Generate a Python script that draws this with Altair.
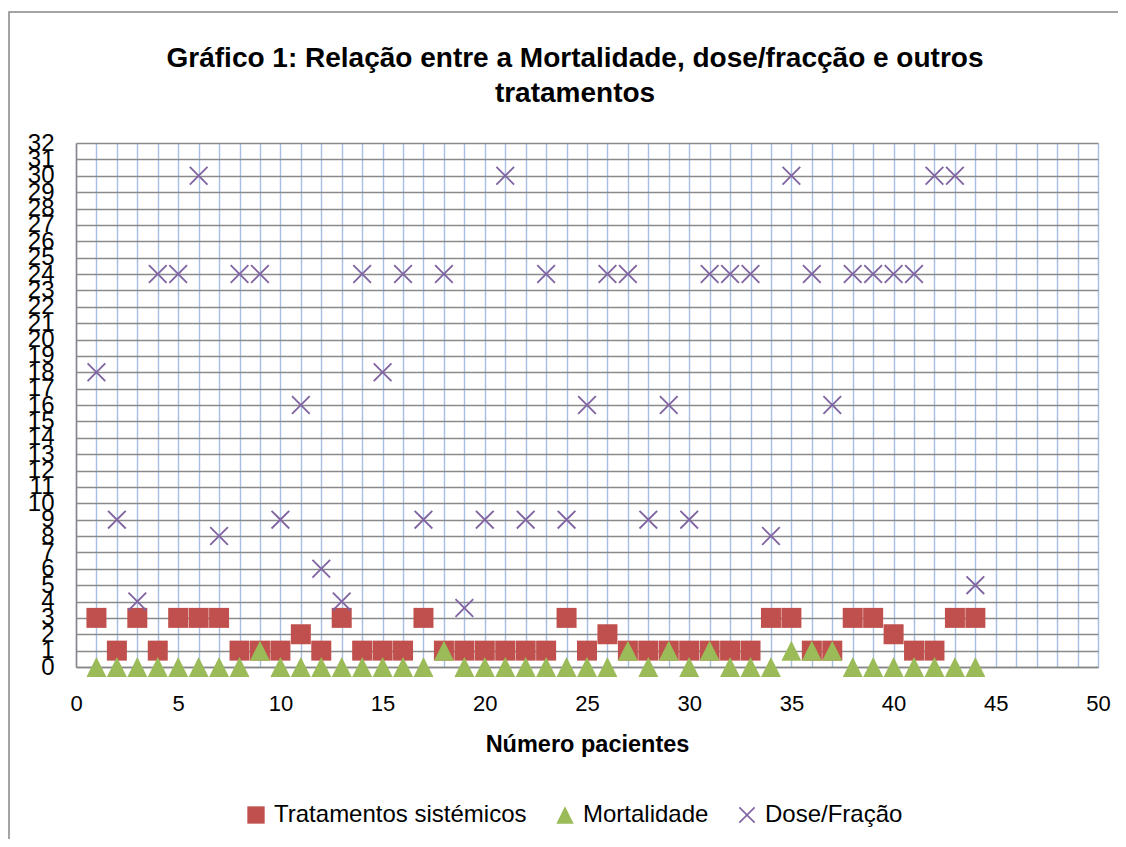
import altair as alt
import pandas as pd

patients = list(range(1, 45))
tratamentos = [3, 1, 3, 1, 3, 3, 3, 1, 1, 1, 2, 1, 3, 1, 1, 1, 3, 1, 1, 1, 1, 1,
               1, 3, 1, 2, 1, 1, 1, 1, 1, 1, 1, 3, 3, 1, 1, 3, 3, 2, 1, 1, 3, 3]
mortalidade = [0, 0, 0, 0, 0, 0, 0, 0, 1, 0, 0, 0, 0, 0, 0, 0, 0, 1, 0, 0, 0, 0,
               0, 0, 0, 0, 1, 0, 1, 0, 1, 0, 0, 0, 1, 1, 1, 0, 0, 0, 0, 0, 0, 0]
dose = [18, 9, 4, 24, 24, 30, 8, 24, 24, 9, 16, 6, 4, 24, 18, 24, 9, 24, 3.6, 9,
        30, 9, 24, 9, 16, 24, 24, 9, 16, 9, 24, 24, 24, 8, 30, 24, 16, 24, 24, 24,
        24, 30, 30, 5]

series_names = ["Tratamentos sistémicos", "Mortalidade", "Dose/Fração"]
series_colors = ["#C0504D", "#9BBB59", "#8064A2"]

a = 0.13
m = 0.95
X_PATH = (f"M{-m+a},{-m}L0,{-a}L{m-a},{-m}L{m},{-m+a}L{a},0L{m},{m-a}"
          f"L{m-a},{m}L0,{a}L{-m+a},{m}L{-m},{m-a}L{-a},0L{-m},{-m+a}Z")
TRI_PATH = "M0,-1L1,1L-1,1Z"

rows = []
for name, vals in zip(series_names, [tratamentos, mortalidade, dose]):
    for p, v in zip(patients, vals):
        rows.append({"paciente": p, "valor": v, "serie": name})
df = pd.DataFrame(rows)
df["ordem"] = df["serie"].map({n: i for i, n in enumerate(series_names)})

FONT = "Liberation Sans"

legend_cfg = dict(title=None, orient="none", direction="horizontal",
                  legendX=168, legendY=660,
                  labelFont=FONT, labelFontSize=24, labelColor="#000000",
                  labelLimit=500,
                  symbolSize=300, symbolStrokeWidth=0,
                  labelOffset=6, columnPadding=26)

points = alt.Chart(df).mark_point(filled=True, opacity=1, size=400, strokeWidth=0).encode(
    x=alt.X("paciente:Q",
            scale=alt.Scale(domain=[0, 50], nice=False, zero=False),
            axis=alt.Axis(values=list(range(0, 51)),
                          labelExpr="datum.value % 5 == 0 ? datum.label : ''",
                          title="Número pacientes",
                          grid=True, gridColor="#A7BFE4", gridWidth=1.4,
                          ticks=False, domainColor="#868686", domainWidth=1.5,
                          labelFont=FONT, labelFontSize=22, labelColor="#000000",
                          labelPadding=26, labelFlush=False,
                          titleFont=FONT, titleFontSize=23.5, titleFontWeight="bold",
                          titleColor="#000000", titlePadding=18)),
    y=alt.Y("valor:Q",
            scale=alt.Scale(domain=[0, 32], nice=False),
            axis=alt.Axis(values=list(range(0, 33)), title=None,
                          grid=True, gridColor="#8A8A8A", gridWidth=1.6,
                          ticks=False, domainColor="#868686", domainWidth=1.5,
                          labelFont=FONT, labelFontSize=24, labelColor="#000000",
                          labelPadding=22, labelFlush=False, labelOverlap=False)),
    color=alt.Color("serie:N",
                    scale=alt.Scale(domain=series_names, range=series_colors),
                    legend=alt.Legend(**legend_cfg)),
    shape=alt.Shape("serie:N",
                    scale=alt.Scale(domain=series_names,
                                    range=["square", TRI_PATH, X_PATH]),
                    legend=alt.Legend(**legend_cfg)),
    order=alt.Order("ordem:Q"),
)

border = alt.Chart(pd.DataFrame({"k": [0]})).mark_rect(
    fill=None, stroke="#868686", strokeWidth=1.5, clip=False
).encode(x=alt.value(-67), x2=alt.value(1200), y=alt.value(-131), y2=alt.value(800))

chart = alt.layer(border, points).properties(
    width=1022, height=524,
    padding={"left": 68, "top": 135, "right": 20, "bottom": 172},
    autosize=alt.AutoSizeParams(type="none"),
    title=alt.Title(
        text=["Gráfico 1: Relação entre a Mortalidade, dose/fracção e outros", "tratamentos"],
        font=FONT, fontSize=28, fontWeight="bold", color="#000000",
        anchor="middle", frame="group", dx=-12, dy=125, offset=28, lineHeight=35),
).configure_view(stroke=None).configure(background="white")

chart.save("out.html", embed_options={"renderer": "svg", "actions": False})
